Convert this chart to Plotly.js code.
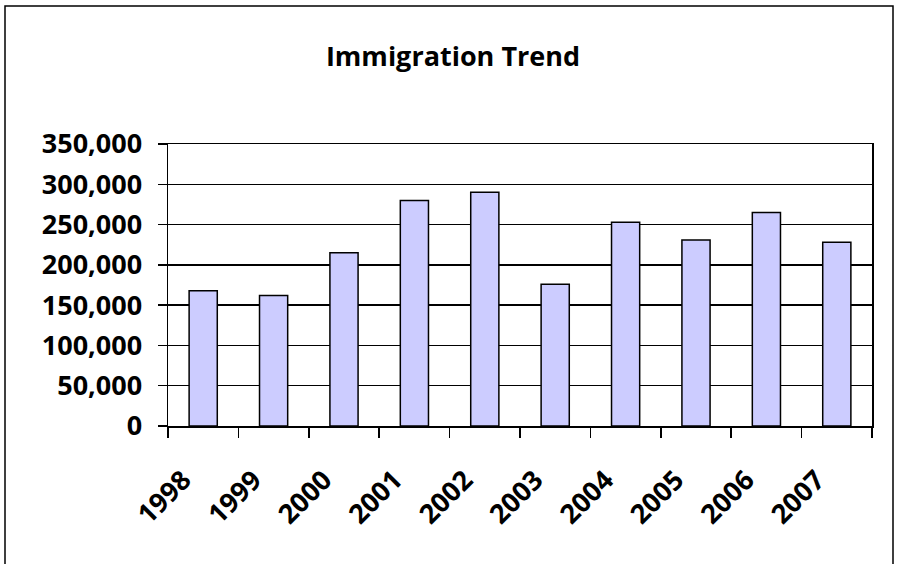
<!DOCTYPE html>
<html>
<head>
<meta charset="utf-8">
<script src="https://cdn.plot.ly/plotly-3.0.1.min.js"></script>
<style>
html,body{margin:0;padding:0;background:#fff;}
#chart{width:898px;height:564px;}
</style>
</head>
<body>
<div id="chart"></div>
<script>
const years = ["1998","1999","2000","2001","2002","2003","2004","2005","2006","2007"];
const immigrants = [168000, 162000, 215000, 280000, 290000, 176000, 253000, 231000, 265000, 228000];
const yTickVals = [0, 50000, 100000, 150000, 200000, 250000, 300000, 350000];
const yTickText = ["0","50,000","100,000","150,000","200,000","250,000","300,000","350,000"];

const font = "'Open Sans', 'Noto Sans', sans-serif";
const W = 898, H = 564;
const m = {l:168, r:26, t:144, b:138};
const pw = W - m.l - m.r, ph = H - m.t - m.b;

const trace = {
  type: 'bar',
  x: years,
  y: immigrants,
  marker: {color: '#CCCCFF', line: {color: '#000', width: 1.5}},
  hoverinfo: 'x+y'
};

const layout = {
  width: W, height: H,
  margin: m,
  paper_bgcolor: '#fff', plot_bgcolor: '#fff',
  showlegend: false,
  bargap: 0.6,
  title: {text: '<b>Immigration Trend</b>', x: 453/W, xanchor: 'center', y: 1 - 57/H, yanchor: 'middle',
          font: {family: font, size: 27, color: '#000', weight: 700}},
  xaxis: {
    type: 'category',
    range: [-0.5, 9.5],
    tickvals: years,
    ticktext: years.map(t => '<b>' + t + '</b>'),
    showline: true, linecolor: '#000', linewidth: 1.5, mirror: true,
    ticks: 'outside', tickson: 'boundaries', ticklen: 10, tickwidth: 1.5, tickcolor: '#000',
    tickangle: -45,
    ticklabelstandoff: 26,
    ticklabelshift: -20,
    tickfont: {family: font, size: 27, color: '#000', weight: 700},
    showgrid: false, zeroline: false, fixedrange: true
  },
  yaxis: {
    range: [0, 350000],
    tickvals: yTickVals, ticktext: yTickText.map(t => '<b>' + t + '</b>'),
    showline: true, linecolor: '#000', linewidth: 1.5, mirror: true,
    ticks: 'outside', ticklen: 9, tickwidth: 1.5, tickcolor: '#000',
    ticklabelstandoff: 10,
    tickfont: {family: font, size: 27, color: '#000', weight: 700},
    showgrid: true, gridcolor: '#000', gridwidth: 1.5,
    zeroline: false, fixedrange: true
  },
  shapes: [{
    type: 'rect', xref: 'paper', yref: 'paper', layer: 'above',
    x0: (5 - m.l)/pw, x1: (893 - m.l)/pw,
    y0: (H - m.b - 600)/ph, y1: (H - m.b - 6)/ph,
    line: {color: '#000', width: 1.5}, fillcolor: 'rgba(0,0,0,0)'
  }]
};

Plotly.newPlot('chart', [trace], layout, {displayModeBar: false, staticPlot: true});
</script>
</body>
</html>
